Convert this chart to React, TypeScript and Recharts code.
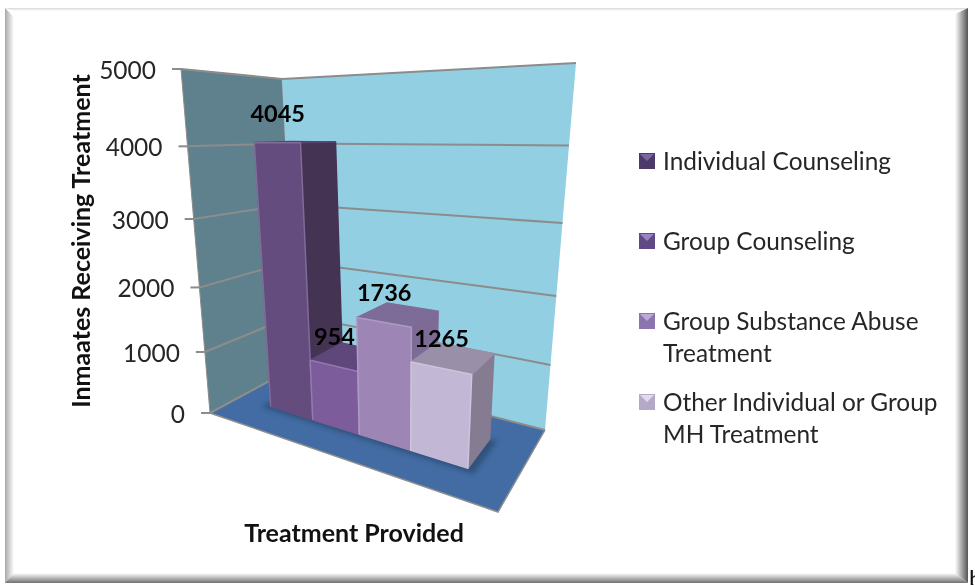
import { BarChart, Bar, XAxis, YAxis, CartesianGrid, Legend, LabelList } from 'recharts';

const seriesNames = ['Individual Counseling', 'Group Counseling', 'Group Substance Abuse Treatment', 'Other Individual or Group MH Treatment'];
const seriesValues = [4045, 954, 1736, 1265];
const yTicks = [0, 1000, 2000, 3000, 4000, 5000];
const frontColors = ['#644c7f', '#7c5c9b', '#9d86b6', '#c3b7d6'];
const sideColors = ['#443352', '#5f4a78', '#7d6b96', '#857c92'];
const topColors = ['#574270', '#5f477c', '#7e6c98', '#9a8fa8'];
const legendBaseColors = ['#4c3a68', '#5f4a84', '#8a76ad', '#b5a9c8'];
const legendTopColors = ['#7b67a0', '#9a84c0', '#bcaad8', '#e2dbee'];
const legendGaps = [0, 48, 48, 17];

const W = 975;
const H = 585;
const AXIS_W = 60;
const plot = { left: 210, top: 68, width: 288, height: 345 };

type Pt = [number, number];

// maps the unit square onto four screen corners: (0,0) (1,0) (1,1) (0,1)
function homography(p0: Pt, p1: Pt, p2: Pt, p3: Pt) {
  const dx1 = p1[0] - p2[0];
  const dx2 = p3[0] - p2[0];
  const sx = p0[0] - p1[0] + p2[0] - p3[0];
  const dy1 = p1[1] - p2[1];
  const dy2 = p3[1] - p2[1];
  const sy = p0[1] - p1[1] + p2[1] - p3[1];
  const den = dx1 * dy2 - dx2 * dy1;
  const g = (sx * dy2 - dx2 * sy) / den;
  const h = (dx1 * sy - sx * dy1) / den;
  const a = p1[0] - p0[0] + g * p1[0];
  const b = p3[0] - p0[0] + h * p3[0];
  const d = p1[1] - p0[1] + g * p1[1];
  const e = p3[1] - p0[1] + h * p3[1];
  return (u: number, w: number): Pt => {
    const q = g * u + h * w + 1;
    return [(a * u + b * w + p0[0]) / q, (d * u + e * w + p0[1]) / q];
  };
}

const floorAt = homography([210, 413], [498, 512], [545, 430], [297, 366]);
const roofAt = homography([181, 69], [528, 42], [576, 63], [282, 79]);

// u along the category axis, v share of the value axis, w depth into the box
function project(u: number, v: number, w: number): Pt {
  const b = floorAt(u, w);
  const t = roofAt(u, w);
  const k = v / (v + (1 - v) * 1.16);
  return [b[0] + (t[0] - b[0]) * k, b[1] + (t[1] - b[1]) * k];
}

const toU = (x: number) => (x - plot.left) / plot.width;
const toV = (y: number) => (plot.top + plot.height - y) / plot.height;
const pts = (list: Pt[]) => list.map((p) => `${p[0].toFixed(1)},${p[1].toFixed(1)}`).join(' ');

const W_FRONT = 0.3;
const W_BACK = 0.69;

function Bar3D(props: any, i: number) {
  const { x, y, width } = props;
  const u0 = toU(x);
  const u1 = toU(x + width);
  const v = toV(y);
  const front = [project(u0, 0, W_FRONT), project(u1, 0, W_FRONT), project(u1, v, W_FRONT), project(u0, v, W_FRONT)];
  const side = [project(u1, 0, W_FRONT), project(u1, 0, W_BACK), project(u1, v, W_BACK), project(u1, v, W_FRONT)];
  const top = [project(u0, v, W_FRONT), project(u1, v, W_FRONT), project(u1, v, W_BACK), project(u0, v, W_BACK)];
  return (
    <g strokeLinejoin="round">
      <polygon points={pts(side)} fill={sideColors[i]} stroke={sideColors[i]} strokeWidth={1.5} />
      <polygon points={pts(top)} fill={topColors[i]} stroke={topColors[i]} strokeWidth={1.5} />
      <polygon points={pts(front)} fill={frontColors[i]} stroke={frontColors[i]} strokeWidth={1.5} />
      <polyline points={pts([front[0], front[3], front[2], front[1]])} fill="none" stroke="#ffffff" strokeOpacity={0.18} strokeWidth={1.5} />
    </g>
  );
}

function barLabel(props: any) {
  const { x, y, width, value } = props;
  const p = project(toU(x + width / 2), toV(y), W_FRONT);
  return (
    <text x={p[0] + 1} y={p[1] - 30} textAnchor="middle" dominantBaseline="central" fontFamily="Lato" fontWeight={700} fontSize={23.5} fill="#000">
      {value}
    </text>
  );
}

function gridLine(props: any) {
  const v = toV(props.y1);
  const line = [project(0, v, 0), project(0, v, 1), project(1, v, 1)];
  return <polyline key={props.y1} points={pts(line)} fill="none" stroke="#8c8c8c" strokeWidth={2} />;
}

function YTick(props: any) {
  const { y, payload } = props;
  const p = project(0, toV(y), 0);
  return (
    <g>
      <line x1={p[0] - 9} y1={p[1]} x2={p[0]} y2={p[1]} stroke="#8c8c8c" strokeWidth={2} />
      <text x={p[0] - 25} y={p[1]} textAnchor="end" dominantBaseline="central" fontFamily="Lato" fontSize={24.5} fill="#262626">
        {payload.value}
      </text>
    </g>
  );
}

function legendContent(props: any) {
  const items = props.payload || [];
  return (
    <div style={{ fontFamily: 'Lato', fontSize: 24.4, lineHeight: '32px', color: '#262626' }}>
      {items.map((item: any, i: number) => (
        <div key={item.value} style={{ display: 'flex', marginTop: legendGaps[i] }}>
          <svg width={25} height={32} style={{ flex: 'none' }}>
            <rect x={1} y={8} width={16} height={16} fill={legendBaseColors[i]} />
            <polygon points="2,9 16,9 9,16" fill={legendTopColors[i]} />
          </svg>
          <span>{item.value}</span>
        </div>
      ))}
    </div>
  );
}

function Backdrop() {
  const floor = [project(0, 0, 0), project(1, 0, 0), project(1, 0, 1), project(0, 0, 1)];
  const leftWall = [project(0, 0, 0), project(0, 0, 1), project(0, 1, 1), project(0, 1, 0)];
  const backWall = [project(0, 0, 1), project(1, 0, 1), project(1, 1, 1), project(0, 1, 1)];
  const shadow = [project(0.12, 0, W_FRONT - 0.04), project(0.89, 0, W_FRONT - 0.04), project(0.89, 0, W_BACK), project(0.12, 0, W_BACK)];
  return (
    <svg width={W} height={H} style={{ position: 'absolute', left: 0, top: 0 }}>
      <defs>
        <linearGradient id="edgeLeft" x1="0" x2="1" y1="0" y2="0">
          <stop offset="0" stopColor="#a8a8a8" />
          <stop offset="1" stopColor="#ffffff" />
        </linearGradient>
        <linearGradient id="edgeRight" x1="0" x2="1" y1="0" y2="0">
          <stop offset="0" stopColor="#ffffff" />
          <stop offset="1" stopColor="#555555" />
        </linearGradient>
        <linearGradient id="edgeBottom" x1="0" x2="0" y1="0" y2="1">
          <stop offset="0" stopColor="#ffffff" />
          <stop offset="1" stopColor="#707070" />
        </linearGradient>
        <linearGradient id="edgeTop" x1="0" x2="0" y1="0" y2="1">
          <stop offset="0" stopColor="#d8d8d8" />
          <stop offset="1" stopColor="#ffffff" />
        </linearGradient>
        <filter id="soft" x="-20%" y="-20%" width="140%" height="140%">
          <feGaussianBlur stdDeviation="2.5" />
        </filter>
      </defs>
      <rect x={5} y={8} width={963} height={575} fill="#fff" />
      <polygon points="5,8 968,8 958,11 14,11" fill="url(#edgeTop)" />
      <polygon points="5,8 14,17 14,574 5,583" fill="url(#edgeLeft)" />
      <polygon points="968,8 955,14 955,573 968,583" fill="url(#edgeRight)" />
      <polygon points="5,583 14,573 955,573 968,583" fill="url(#edgeBottom)" />
      <polygon points={pts(leftWall)} fill="#5f818e" stroke="#8c8c8c" strokeWidth={1} />
      <polygon points={pts(backWall)} fill="#93cfe2" />
      <polygon points={pts(floor)} fill="#426ca3" />
      <polyline points={pts([floor[3], floor[0], floor[1], floor[2]])} fill="none" stroke="#8f8f8f" strokeWidth={1.5} />
      <polygon points={pts(shadow)} fill="#2c4a72" fillOpacity={0.8} filter="url(#soft)" />
      <text x={80} y={241} transform="rotate(-90 80 241)" textAnchor="middle" dominantBaseline="central" fontFamily="Lato" fontWeight={700} fontSize={25} fill="#111">
        Inmaates Receiving Treatment
      </text>
      <text x={354} y={532} textAnchor="middle" dominantBaseline="central" fontFamily="Lato" fontWeight={700} fontSize={25} fill="#111">
        Treatment Provided
      </text>
      <text x={969} y={587} fontFamily="Lato" fontSize={24} fill="#111">b</text>
    </svg>
  );
}

const tableRow: Record<string, string | number> = { name: 'Treatment Provided' };
seriesNames.forEach((n, i) => {
  tableRow[n] = seriesValues[i];
});
const chartData = [tableRow];

export default function App() {
  return (
    <div style={{ position: 'absolute', left: 0, top: 0, width: W, height: H, overflow: 'hidden', background: '#fff', filter: 'blur(0.6px)' }}>
      <Backdrop />
      <div style={{ position: 'absolute', left: 0, top: 0 }}>
        <BarChart
          width={W}
          height={H}
          data={chartData}
          barCategoryGap="13.6%"
          barGap={0}
          margin={{ left: plot.left - AXIS_W, top: plot.top, right: W - plot.left - plot.width, bottom: H - plot.top - plot.height }}
        >
          <CartesianGrid horizontal={gridLine} vertical={false} />
          <XAxis dataKey="name" hide padding={{ left: 3, right: 2 }} />
          <YAxis domain={[0, 5000]} ticks={yTicks} width={AXIS_W} axisLine={false} tickLine={false} tick={YTick} interval={0} />
          <Legend
            content={legendContent}
            itemSorter={null}
            wrapperStyle={{ position: 'absolute', left: 638, top: 145, width: 310, height: 0, bottom: 'auto' }}
          />
          {seriesNames.map((n, i) => (
            <Bar key={n} dataKey={n} name={n} isAnimationActive={false} shape={(p: any) => Bar3D(p, i)}>
              <LabelList dataKey={n} content={barLabel} />
            </Bar>
          ))}
        </BarChart>
      </div>
    </div>
  );
}
